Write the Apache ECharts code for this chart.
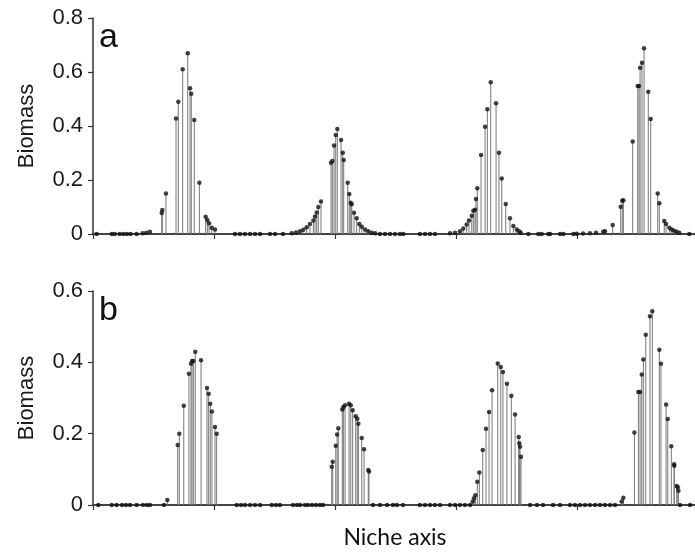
<!DOCTYPE html>
<html>
<head>
<meta charset="utf-8">
<script src="https://cdn.jsdelivr.net/npm/echarts@6/dist/echarts.min.js"></script>
<style>html,body{margin:0;padding:0;background:#fff}#c{width:695px;height:553px}</style>
</head>
<body>
<div id="c"></div>
<script>
// Panel a: niche positions (axis units) and biomass
var xA = [0.03,0.155,0.18,0.22,0.25,0.28,0.31,0.36,0.41,0.44,0.47,
  0.568,0.573,0.603,0.686,0.705,0.741,0.783,0.802,0.812,0.837,0.879,0.931,0.945,0.959,0.981,1.008,
  1.174,1.215,1.256,1.298,1.339,1.380,1.463,1.504,1.570,
  1.642,1.678,1.711,1.738,1.766,1.793,1.821,1.835,1.849,1.862,1.884,
  1.967,1.978,1.992,2.006,2.019,2.05,2.064,2.072,2.105,2.118,2.130,2.138,2.157,2.179,2.201,2.221,2.248,2.275,2.303,2.331,
  2.372,2.413,2.455,2.496,2.537,2.564,2.702,2.744,2.785,2.826,
  2.950,2.992,3.033,3.060,3.088,3.107,3.130,3.143,3.157,3.165,3.176,3.207,3.240,3.259,3.287,3.331,3.355,3.378,3.411,3.446,3.474,3.502,3.521,3.535,
  3.598,3.680,3.708,3.763,3.777,3.860,3.887,3.970,
  3.998,4.050,4.107,4.157,4.217,4.231,4.295,4.361,4.374,4.383,4.460,4.502,4.512,4.521,4.537,4.554,4.589,4.609,4.667,4.680,4.721,4.736,4.763,4.783,4.802,4.824,4.845,4.928];
var yA = [0,0,0,0,0,0,0,0,0.003,0.005,0.008,
  0.078,0.089,0.15,0.428,0.49,0.61,0.669,0.54,0.519,0.422,0.19,0.064,0.052,0.04,0.023,0.017,
  0,0,0,0,0,0,0,0,0,
  0.003,0.006,0.01,0.016,0.025,0.037,0.05,0.065,0.08,0.1,0.12,
  0.264,0.27,0.328,0.367,0.389,0.348,0.301,0.274,0.19,0.148,0.116,0.11,0.079,0.058,0.037,0.027,0.017,0.01,0.005,0.003,
  0,0,0,0,0,0,0,0,0,0,
  0.003,0.005,0.01,0.02,0.035,0.05,0.068,0.086,0.09,0.13,0.169,0.293,0.397,0.462,0.562,0.484,0.301,0.206,0.111,0.058,0.03,0.017,0.01,0.005,
  0,0,0,0,0,0,0,0,
  0.001,0.002,0.003,0.005,0.008,0.01,0.033,0.101,0.123,0.125,0.343,0.548,0.548,0.616,0.634,0.688,0.527,0.426,0.15,0.114,0.048,0.037,0.023,0.017,0.012,0.008,0.005,0];

// Panel b
var xB = [0.044,0.155,0.196,0.240,0.273,0.306,0.361,0.413,0.446,0.471,0.587,
  0.614,0.700,0.713,0.750,0.793,0.810,0.818,0.829,0.845,0.893,0.942,0.956,0.969,0.983,1.008,1.022,
  1.188,1.223,1.256,1.298,1.339,1.380,1.477,1.512,1.545,1.653,1.686,1.711,1.752,1.777,1.810,1.843,1.876,1.901,
  1.973,1.981,2.006,2.017,2.027,2.060,2.069,2.083,2.116,2.130,2.146,2.171,2.184,2.193,2.221,2.240,2.275,2.281,
  2.314,2.372,2.430,2.479,2.512,2.562,2.702,2.744,2.785,2.826,2.868,2.950,2.992,3.033,3.074,3.116,
  3.138,3.149,3.160,3.176,3.193,3.221,3.248,3.273,3.298,3.345,3.370,3.388,3.421,3.457,3.488,3.518,3.523,3.529,3.537,
  3.612,3.669,3.719,3.802,3.860,3.942,3.983,4.025,4.066,4.107,4.149,4.190,4.231,4.273,4.314,
  4.369,4.383,4.474,4.507,4.521,4.535,4.548,4.568,4.603,4.622,4.680,4.694,4.736,4.750,4.779,4.802,4.804,4.824,4.833,4.838,4.851,4.934];
var yB = [0,0,0,0,0,0,0,0,0,0,0,
  0.014,0.168,0.2,0.278,0.368,0.396,0.404,0.404,0.43,0.406,0.328,0.312,0.284,0.262,0.219,0.2,
  0,0,0,0,0,0,0,0,0,0,0,0,0,0,0,0,0,0,
  0.107,0.121,0.166,0.198,0.215,0.268,0.275,0.28,0.284,0.28,0.266,0.249,0.242,0.228,0.188,0.156,0.098,0.094,
  0,0,0,0,0,0,0,0,0,0,0,0,0,0,0,0,
  0.01,0.019,0.027,0.065,0.091,0.154,0.214,0.261,0.322,0.397,0.387,0.373,0.34,0.306,0.254,0.191,0.173,0.163,0.135,
  0,0,0,0,0,0,0,0,0,0,0,0,0,0,0,
  0.01,0.02,0.203,0.317,0.317,0.366,0.408,0.477,0.529,0.543,0.435,0.396,0.282,0.241,0.165,0.114,0.11,0.053,0.05,0.04,0,0];

var yTicksA = {min: 0, max: 0.8, interval: 0.2};
var yTicksB = {min: 0, max: 0.6, interval: 0.2};
var panelLabels = ['a', 'b'];
var yName = 'Biomass';
var xName = 'Niche axis';

function pairs(xs, ys){ return xs.map(function(x,i){ return [x, ys[i]]; }); }
var dataA = pairs(xA, yA), dataB = pairs(xB, yB);

var XMAX = 4.975;
var axisCol = '#333';
function xBottom(gi){
  return {gridIndex: gi, type: 'value', min: 0, max: XMAX, interval: 1,
    axisLine: {show: true, onZero: false, lineStyle: {color: axisCol, width: 1.5}},
    axisTick: {show: true, length: 5, lineStyle: {color: axisCol, width: 1.2}},
    axisLabel: {show: false}, splitLine: {show: false}};
}
function xTop(gi){
  return {gridIndex: gi, type: 'value', position: 'top', min: 0, max: XMAX,
    axisLine: {show: true, lineStyle: {color: '#444', width: 2}},
    axisTick: {show: false}, axisLabel: {show: false}, splitLine: {show: false}};
}
function yAx(gi, t){
  return {gridIndex: gi, type: 'value', min: t.min, max: t.max, interval: t.interval,
    axisLine: {show: true, lineStyle: {color: axisCol, width: 1.5}},
    axisTick: {show: true, length: 5, lineStyle: {color: axisCol, width: 1.2}},
    axisLabel: {fontSize: 22, color: '#1a1a1a', fontFamily: 'Liberation Sans', margin: 10,
      formatter: function(v){ return v === 0 ? '0' : v.toFixed(1); }},
    splitLine: {show: false},
    name: yName, nameLocation: 'middle', nameGap: 55,
    nameTextStyle: {fontSize: 22, color: '#1a1a1a', fontFamily: 'Liberation Sans'}};
}
function stemItem(params, api){
  var x = api.value(0), y = api.value(1);
  var p0 = api.coord([x, 0]), p1 = api.coord([x, y]);
  return {type: 'line', shape: {x1: p0[0], y1: p0[1], x2: p1[0], y2: p1[1]},
    style: {stroke: '#777', lineWidth: 1}};
}

var chart = echarts.init(document.getElementById('c'), null, {renderer: 'canvas'});
chart.setOption({
  backgroundColor: '#fff',
  animation: false,
  grid: [
    {left: 93, top: 18, width: 602, height: 216},
    {left: 93, top: 291, width: 602, height: 214}
  ],
  xAxis: [xBottom(0), xTop(0), xBottom(1), xTop(1)],
  yAxis: [yAx(0, yTicksA), yAx(1, yTicksB)],
  series: [
    {type: 'custom', xAxisIndex: 0, yAxisIndex: 0, renderItem: stemItem, data: dataA, z: 2},
    {type: 'scatter', xAxisIndex: 0, yAxisIndex: 0, data: dataA, symbolSize: 4.5, itemStyle: {color: '#111'}, z: 3},
    {type: 'custom', xAxisIndex: 2, yAxisIndex: 1, renderItem: stemItem, data: dataB, z: 2},
    {type: 'scatter', xAxisIndex: 2, yAxisIndex: 1, data: dataB, symbolSize: 4.5, itemStyle: {color: '#111'}, z: 3}
  ],
  graphic: [
    {type: 'text', left: 99, top: 21, style: {text: panelLabels[0], font: '34px "Liberation Sans"', fill: '#111'}},
    {type: 'text', left: 99, top: 294, style: {text: panelLabels[1], font: '34px "Liberation Sans"', fill: '#111'}},
    {type: 'text', x: 395, y: 538, style: {text: xName, font: '23px Lato', fill: '#111', textAlign: 'center', textVerticalAlign: 'middle'}}
  ]
});
</script>
</body>
</html>
